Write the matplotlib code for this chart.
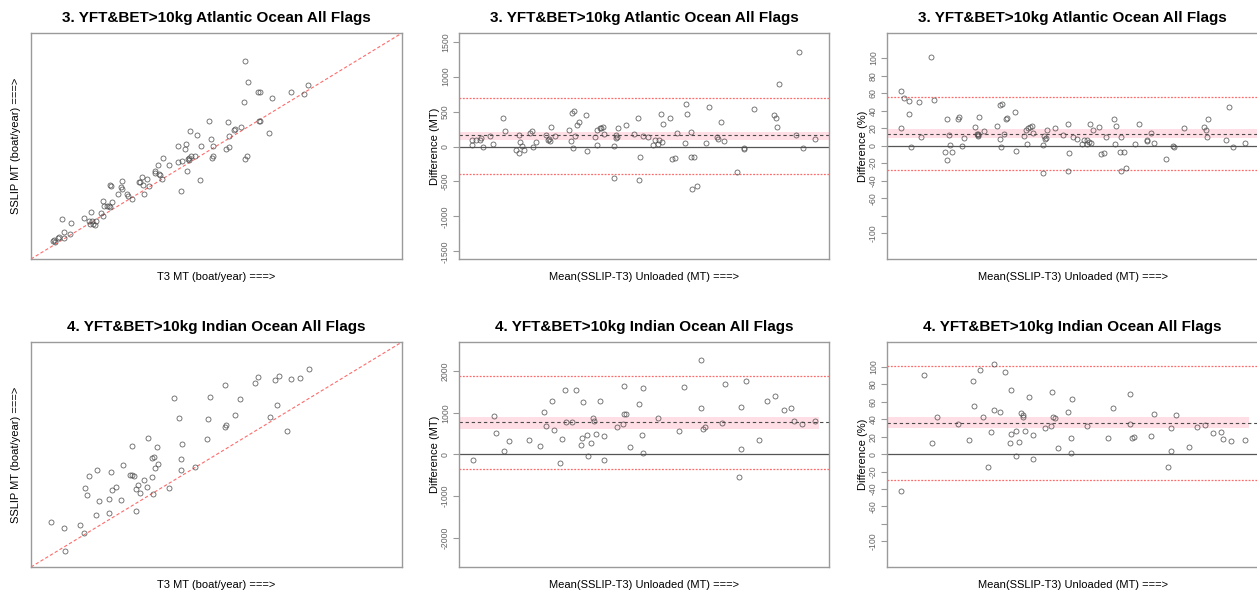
import numpy as np
import matplotlib
matplotlib.use("Agg")
import matplotlib.pyplot as plt

plt.rcParams['font.family'] = ['Liberation Sans', 'DejaVu Sans']

# ---- titles / labels ----
title_atl = "3. YFT&BET>10kg Atlantic Ocean All Flags"
title_ind = "4. YFT&BET>10kg Indian Ocean All Flags"
xlab_scatter = "T3 MT (boat/year) ===>"
ylab_scatter = "SSLIP MT (boat/year) ===>"
xlab_diff = "Mean(SSLIP-T3) Unloaded (MT) ===>"
ylab_mt = "Difference (MT)"
ylab_pct = "Difference (%)"

# ---- Atlantic: T3 vs SSLIP (relative scale, no tick labels) ----
atl_t3 = [57.7, 58.6, 61.1, 61.8, 74.7, 70.0, 73.5, 64.9, 57.5, 61.7, 61.5, 64.1, 53.0, 48.1,
          56.5, 54.9, 54.7, 53.3, 42.9, 44.8, 48.4, 45.7, 49.1, 39.7, 41.9, 41.5, 53.3, 52.5,
          49.1, 48.9, 58.1, 57.8, 35.6, 44.1, 43.2, 42.5, 42.7, 40.8, 39.6, 42.3, 37.2, 34.3,
          33.3, 33.5, 34.4, 34.7, 35.2, 31.3, 30.0, 29.4, 29.1, 30.1, 31.8, 42.1, 45.6, 40.3,
          24.6, 24.2, 24.5, 21.4, 21.6, 23.4, 25.9, 26.1, 27.1, 30.5, 19.5, 21.9, 20.6, 21.0,
          21.3, 19.7, 16.1, 18.9, 19.3, 14.4, 15.5, 16.5, 17.6, 16.8, 16.0, 17.3, 8.3, 10.9,
          8.8, 10.6, 9.0, 7.6, 7.2, 6.1, 6.5, 5.8]
atl_sslip = [87.5, 78.3, 74.0, 73.7, 76.8, 73.7, 72.9, 71.4, 69.3, 61.2, 60.9, 55.8, 60.8, 60.9,
             58.3, 57.5, 57.2, 54.3, 56.5, 55.0, 53.1, 50.1, 50.1, 50.0, 51.0, 48.8, 49.7, 48.8,
             45.7, 44.8, 45.6, 44.1, 44.8, 45.4, 45.4, 44.7, 43.7, 43.2, 42.9, 44.2, 41.4, 41.4,
             39.1, 38.1, 37.6, 37.3, 35.4, 35.5, 36.3, 34.2, 33.9, 32.9, 32.2, 38.8, 35.1, 30.2,
             34.7, 31.9, 31.1, 32.6, 32.2, 28.8, 28.9, 27.7, 26.7, 28.9, 25.5, 25.4, 23.6, 23.3,
             23.2, 23.5, 20.9, 20.2, 18.9, 18.0, 17.0, 16.7, 16.8, 15.6, 15.3, 14.9, 17.6, 15.8,
             12.1, 11.2, 9.1, 9.9, 9.3, 8.3, 7.4, 7.8]

# ---- Atlantic: difference in MT ----
atl_mean_mt = [3.6, 4.5, 3.6, 5.7, 5.9, 6.6, 8.5, 9.1, 11.8, 12.5, 15.5, 16.2, 16.3, 16.5, 17.0,
               17.6, 19.1, 19.6, 20.1, 20.7, 23.5, 24.0, 24.3, 24.5, 24.8, 25.9, 29.6, 30.4, 30.6,
               31.0, 30.7, 31.4, 31.9, 32.3, 34.2, 34.5, 36.8, 37.3, 37.4, 38.2, 38.5, 39.0, 39.3,
               41.8, 41.9, 42.3, 42.4, 42.6, 43.1, 45.2, 47.3, 48.5, 48.6, 48.9, 49.7, 51.2, 52.3,
               53.1, 53.7, 54.1, 54.6, 54.8, 55.2, 56.9, 57.7, 58.4, 58.9, 61.1, 61.4, 61.6, 62.6,
               62.8, 62.9, 63.6, 64.2, 66.7, 67.6, 70.8, 69.8, 69.9, 71.7, 75.0, 76.9, 77.0, 79.8,
               85.2, 85.7, 86.0, 86.4, 91.9, 91.1, 93.0, 96.3]
atl_diff_mt = [91, 91, 24, 91, 119, -5, 153, 29, 410, 219, -43, -95, 172, 67, 10,
               -52, 196, 219, -5, 62, 167, 91, 105, 86, 277, 157, 239, 76, 487,
               506, -19, 148, 305, 348, 448, -67, 134, 239, 24, 262, 267, 286, 186,
               10, -448, 162, 129, 143, 267, 310, 186, 410, -477, -153, 157, 134, 24,
               100, 29, 100, 463, 67, 329, 410, -176, -162, 196, 48, 611, 467, -157,
               210, -615, -157, -563, 52, 568, 353, 138, 110, 76, -363, -19, -33, 534,
               458, 405, 286, 897, 1350, 167, -24, 105]
atl_mt_stats = {"bias": 160, "ci_lo": 98, "ci_hi": 210, "loa_lo": -393, "loa_hi": 699}

# ---- Atlantic: difference in % ----
atl_mean_pct = [3.7, 3.7, 4.6, 5.9, 6.0, 6.6, 8.6, 9.2, 11.8, 12.6, 15.6, 16.3, 16.3, 16.6, 17.1,
                17.6, 19.2, 19.5, 20.3, 20.8, 23.6, 24.2, 24.4, 24.6, 24.8, 24.4, 26.1, 29.6, 30.5,
                30.5, 31.0, 30.8, 31.5, 32.0, 32.3, 34.5, 34.7, 37.0, 37.4, 37.7, 38.1, 38.5, 39.0,
                39.3, 42.0, 42.0, 42.4, 42.7, 42.8, 43.1, 45.3, 47.5, 48.7, 48.7, 49.1, 50.0, 51.2,
                52.6, 53.1, 53.8, 54.0, 54.4, 54.8, 55.1, 55.4, 57.2, 57.7, 58.5, 59.0, 61.3, 61.4,
                61.7, 63.0, 62.7, 63.1, 63.8, 64.4, 66.9, 67.8, 70.1, 70.1, 71.2, 72.0, 75.2, 77.1,
                77.3, 80.0, 85.5, 86.0, 86.2, 86.6, 91.5, 92.3, 93.2, 96.6]
atl_diff_pct = [62, 20, 54, 36, 51, -1, 50, 10, 101.5, 52, -7, -16, 31, 12, 1,
                -7, 31, 33, 0, 9, 21, 13, 12, 13, 33, 11, 17, 23, 8,
                46, 48, -1, 13, 30, 32, 38, -6, 11, 18, 2, 20, 21, 22,
                15, -31, 1, 11, 8, 9, 18, 20, 12, 25, -29, -8, 10, 8,
                2, 6, 6, 2, 4, 25, 3, 18, 21, -9, -8, 10, 30, 2,
                23, 10, -7, -29, -7, -26, 2, 25, 6, 5, 15, 3, -15, 0,
                -1, 20, 21, 18, 10, 31, 6, 44, -1, 3]
atl_pct_stats = {"bias": 13.8, "ci_lo": 8.4, "ci_hi": 19.2, "loa_lo": -27.6, "loa_hi": 55.2}

# ---- Indian: T3 vs SSLIP ----
ind_t3 = [74.8, 66.9, 61.2, 65.7, 60.4, 70.0, 72.5, 52.2, 38.5, 48.3, 56.3, 66.2, 55.1, 64.4,
          40.0, 47.7, 52.5, 52.4, 69.1, 31.5, 47.5, 27.3, 40.8, 34.0, 32.7, 33.1, 40.5, 33.5,
          34.3, 24.9, 40.3, 44.1, 17.8, 21.5, 15.5, 26.7, 27.1, 27.7, 32.6, 30.5, 28.9, 14.6,
          23.0, 21.8, 28.2, 31.2, 29.5, 37.3, 15.2, 33.0, 18.2, 21.0, 24.2, 17.5, 21.0, 28.4,
          5.4, 8.9, 13.3, 14.2, 9.2]
ind_sslip = [87.8, 85.1, 84.4, 83.2, 81.6, 83.5, 84.2, 80.7, 75.3, 75.6, 74.7, 72.2, 67.6, 66.6,
             66.4, 65.8, 63.2, 62.3, 60.6, 57.5, 56.8, 53.8, 54.8, 53.5, 48.4, 48.7, 48.1, 44.1,
             45.9, 45.5, 42.9, 44.6, 42.9, 42.1, 40.6, 41.0, 41.0, 40.6, 39.8, 38.6, 36.6, 35.2,
             35.5, 34.2, 34.6, 35.4, 33.0, 35.2, 31.8, 32.5, 29.3, 30.3, 29.9, 23.0, 24.2, 25.0,
             20.1, 17.2, 18.6, 15.3, 7.1]

# ---- Indian: difference in MT ----
ind_mean_mt = [3.7, 9.5, 10.0, 12.1, 13.5, 19.0, 21.9, 23.0, 23.5, 25.0, 25.8, 27.2, 27.8, 28.7,
               28.8, 30.5, 31.7, 33.0, 33.3, 33.4, 34.7, 34.8, 35.6, 36.2, 36.5, 37.1, 38.1, 39.2,
               39.3, 42.6, 44.2, 44.6, 44.6, 45.2, 46.1, 48.6, 49.4, 49.6, 49.7, 53.9, 59.4, 60.7,
               65.3, 65.3, 66.0, 66.6, 71.0, 71.9, 75.6, 76.3, 76.3, 77.5, 81.1, 83.3, 85.5, 87.8,
               89.7, 90.5, 92.6, 96.3]
ind_diff_mt = [-129, 916, 522, 80, 329, 353, 201, 1028, 691, 1277, 578, -217, 361, 1558,
               779, 779, 1558, 217, 402, 1269, 466, -40, 265, 867, 803, 498, 1277, 442,
               -129, 651, 739, 1639, 972, 972, 177, 1205, 466, 24, 1606, 875, 554, 1631,
               2273, 1116, 602, 659, 763, 1687, -546, 1133, 129, 1767, 353, 1293, 1414, 1068,
               1116, 803, 723, 803]
ind_mt_stats = {"bias": 771, "ci_lo": 618, "ci_hi": 900, "loa_lo": -353, "loa_hi": 1888}

# ---- Indian: difference in % ----
ind_mean_pct = [3.7, 10.0, 12.1, 13.6, 19.2, 22.0, 23.1, 23.5, 25.0, 25.9, 27.3, 27.9, 28.8, 28.9,
                30.5, 31.8, 33.1, 33.4, 33.4, 34.9, 34.9, 35.6, 36.2, 36.7, 36.7, 37.2, 38.2, 39.3,
                39.4, 42.7, 44.3, 44.6, 44.8, 45.3, 46.2, 48.8, 49.6, 49.7, 49.8, 54.0, 59.6, 60.8,
                65.5, 65.4, 66.0, 66.7, 71.1, 72.0, 75.8, 76.5, 76.6, 77.8, 81.3, 83.6, 85.8, 88.0,
                89.9, 90.7, 92.8, 96.6]
ind_diff_pct = [-41.8, 90.4, 12.3, 42.9, 34.1, 16.1, 84.3, 54.8, 96.9, 42.1, -15.3, 24.9, 103, 51,
                48.7, 93.9, 12.3, 73.2, 22.6, -1.9, 26, 14.2, 46.7, 45.2, 42.5, 26, 65.1, 22.2,
                -6.1, 29.9, 32.2, 71.3, 42.5, 41.8, 7.3, 48.3, 18.4, 0.8, 62.8, 31.8, 18.4, 52.5,
                68.6, 34.1, 18, 19.5, 21.1, 46.4, -14.2, 29.5, 3.1, 45.2, 8.4, 30.6, 32.9, 24.5,
                24.9, 17.6, 15.3, 16.1]
ind_pct_stats = {"bias": 36.0, "ci_lo": 29.5, "ci_hi": 42.5, "loa_lo": -29.9, "loa_hi": 101.1}

W, H = 1257, 594
fig = plt.figure(figsize=(W / 100, H / 100), dpi=100)

FRAME = '#9a9a9a'
PT = '#4a4a4a'
RED = '#ff6b6b'


def px_axes(x0, y0, x1, y1):
    return fig.add_axes([x0 / W, 1 - y1 / H, (x1 - x0) / W, (y1 - y0) / H])


def style_frame(ax):
    for s in ax.spines.values():
        s.set_color(FRAME)
        s.set_linewidth(1.0)


def points(ax, x, y):
    ax.plot(x, y, 'o', ms=3.6, mfc='none', mec=PT, mew=0.6, alpha=0.85)


def scatter_panel(ax, title, t3, sslip):
    style_frame(ax)
    ax.set_xlim(0, 100)
    ax.set_ylim(0, 100)
    ax.axline((0, 0), slope=1, color=RED, lw=0.8, ls=(0, (3, 2)))
    points(ax, t3, sslip)
    ax.set_xticks([])
    ax.set_yticks([])
    ax.set_title(title, fontsize=11, fontweight='bold', pad=8)
    ax.set_xlabel(xlab_scatter, fontsize=8)
    ax.set_ylabel(ylab_scatter, fontsize=8)
    ax.xaxis.set_label_coords(0.5, -0.058)
    ax.yaxis.set_label_coords(-0.027, 0.5)


def diff_panel(ax, title, x, d, st, ylim, ticks, ylab, band_end=1.0, skip=()):
    style_frame(ax)
    ax.set_xlim(0, 100)
    ax.set_ylim(*ylim)
    ax.axhspan(st["ci_lo"], st["ci_hi"], xmin=0, xmax=band_end, color='#ffb6c6', alpha=0.45, lw=0)
    ax.axhline(0, color='#555555', lw=0.9)
    ax.axhline(st["bias"], color='#4a4a4a', lw=0.8, ls=(0, (3, 2.5)))
    for v in (st["loa_lo"], st["loa_hi"]):
        ax.axhline(v, color=RED, lw=0.9, ls=(0, (1.5, 1.2)))
    points(ax, x, d)
    ax.set_xticks([])
    ax.set_yticks(ticks)
    ax.set_yticklabels(['' if t in skip else str(t) for t in ticks],
                       rotation=90, va='center', fontsize=6.3, color='#666666')
    ax.tick_params(axis='y', length=4.5, width=0.8, color=FRAME, pad=2)
    ax.set_title(title, fontsize=11, fontweight='bold', pad=8)
    ax.set_xlabel(xlab_diff, fontsize=8)
    ax.set_ylabel(ylab, fontsize=8)
    ax.xaxis.set_label_coords(0.5, -0.058)
    ax.yaxis.set_label_coords(-0.052, 0.5)


mt_ticks_atl = [-1500, -1000, -500, 0, 500, 1000, 1500]
mt_ticks_ind = [-2000, -1000, 0, 1000, 2000]
pct_ticks = [-100, -80, -60, -40, -20, 0, 20, 40, 60, 80, 100]

ax1 = px_axes(31, 33, 402, 259)
scatter_panel(ax1, title_atl, atl_t3, atl_sslip)
ax2 = px_axes(459, 33, 829, 259)
diff_panel(ax2, title_atl, atl_mean_mt, atl_diff_mt, atl_mt_stats, (-1610, 1625),
           mt_ticks_atl, ylab_mt)
ax3 = px_axes(887, 33, 1258, 259)
diff_panel(ax3, title_atl, atl_mean_pct, atl_diff_pct, atl_pct_stats, (-129.5, 128.7),
           pct_ticks, ylab_pct, skip=(-80,))

ax4 = px_axes(31, 342, 402, 567)
scatter_panel(ax4, title_ind, ind_t3, ind_sslip)
ax5 = px_axes(459, 342, 829, 567)
diff_panel(ax5, title_ind, ind_mean_mt, ind_diff_mt, ind_mt_stats, (-2705, 2700),
           mt_ticks_ind, ylab_mt, band_end=0.973)
ax6 = px_axes(887, 342, 1258, 567)
diff_panel(ax6, title_ind, ind_mean_pct, ind_diff_pct, ind_pct_stats, (-129.5, 128.7),
           pct_ticks, ylab_pct, band_end=0.976, skip=(-80,))

fig.savefig("out.png", dpi=100)
